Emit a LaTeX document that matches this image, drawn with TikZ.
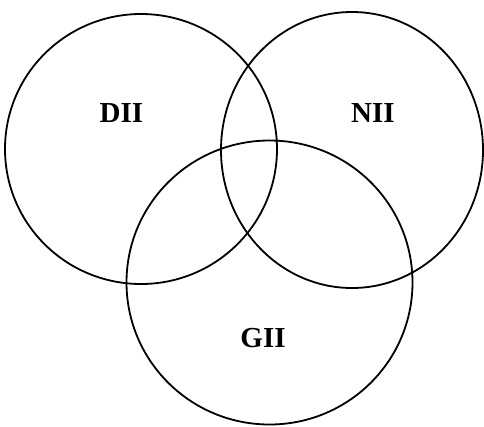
\documentclass[tikz,border=0pt]{standalone}
\usepackage{fontspec}
\setmainfont{Liberation Serif}
\begin{document}
\begin{tikzpicture}[x=1pt,y=-1pt,
  ring/.style={draw=black,line width=1.8pt},
  lbl/.style={font=\fontsize{29}{29}\selectfont\bfseries,inner sep=0pt}]
\useasboundingbox (0,0) rectangle (484,426);
\draw[ring] (141,149) ellipse [x radius=136,y radius=135];
\draw[ring] (352,150) ellipse [x radius=131,y radius=138];
\draw[ring] (269.5,282.5) ellipse [x radius=143,y radius=142];
\node[lbl] (dii) at (121.5,113) {DII};
\node[lbl] (nii) at (373,113) {NII};
\node[lbl] (gii) at (263,338.5) {GII};
\end{tikzpicture}
\end{document}
